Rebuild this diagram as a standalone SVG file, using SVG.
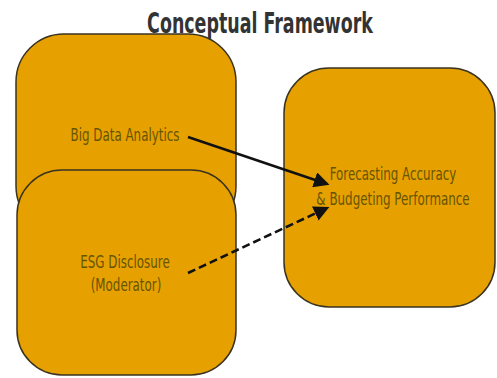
<svg xmlns="http://www.w3.org/2000/svg" width="497" height="378" viewBox="0 0 497 378">
<defs>
<style>
.box{fill:#E6A100;stroke:#3a3320;stroke-width:1.5}
.lbl{font-family:"DejaVu Sans",sans-serif;font-size:17px;fill:#665400;text-anchor:middle}
.title{font-family:"DejaVu Sans",sans-serif;font-size:28px;font-weight:bold;fill:#333333;text-anchor:middle}
.edge{stroke:#111;stroke-width:2.6;fill:none}
</style>
<marker id="ah" markerWidth="6" markerHeight="6" refX="5" refY="3" orient="auto" markerUnits="strokeWidth">
<path d="M0,0 L6,3 L0,6 z" fill="#111"/>
</marker>
</defs>
<rect width="497" height="378" fill="#ffffff"/>
<g id="node-bigdata">
<rect class="box" x="16" y="34" width="220" height="200" rx="48"/>
</g>
<g id="node-esg">
<rect class="box" x="17" y="170" width="219" height="205" rx="45"/>
<text class="lbl" transform="translate(125,268) scale(0.7,1)">ESG Disclosure</text>
<text class="lbl" transform="translate(126,291) scale(0.7,1)">(Moderator)</text>
</g>
<g id="node-bigdata-label">
<text class="lbl" transform="translate(125,141) scale(0.7,1)">Big Data Analytics</text>
</g>
<g id="node-forecast">
<rect class="box" x="284" y="68" width="211" height="239" rx="45"/>
<text class="lbl" transform="translate(393,180) scale(0.7,1)">Forecasting Accuracy</text>
<text class="lbl" transform="translate(393,205) scale(0.7,1)">&amp; Budgeting Performance</text>
</g>
<g id="connectors">
<line class="edge" x1="188" y1="137" x2="327" y2="184" marker-end="url(#ah)"/>
<line class="edge" x1="188" y1="273" x2="327" y2="208" stroke-dasharray="8,4" marker-end="url(#ah)"/>
</g>
<g id="title">
<text class="title" transform="translate(260,33) scale(0.623,1)">Conceptual Framework</text>
</g>
</svg>
